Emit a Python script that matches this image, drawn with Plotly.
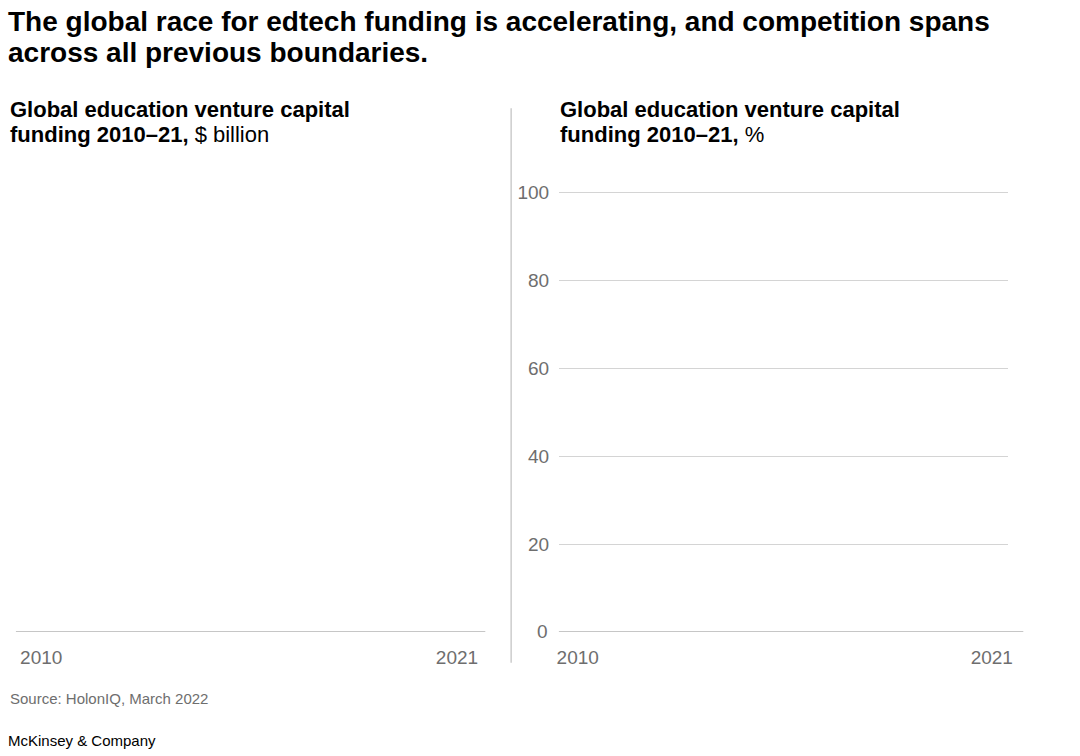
import plotly.graph_objects as go

W, H = 1080, 756

title_lines = ["The global race for edtech funding is accelerating, and competition spans",
               "across all previous boundaries."]
left_sub = ["Global education venture capital", "funding 2010–21,"]
left_unit = "$ billion"
right_sub = ["Global education venture capital", "funding 2010–21,"]
right_unit = "%"
source = "Source: HolonIQ, March 2022"
brand = "McKinsey & Company"

x_tick_years = [2010, 2021]
x_tick_labels = ["2010", "2021"]
y_ticks_pct = [0, 20, 40, 60, 80, 100]
y_tick_labels_pct = ["0", "20", "40", "60", "80", "100"]

# No data marks are visible in the reference chart
funding_years = []
funding_billion = []
share_years = []
share_pct = []

FONT = "Liberation Sans, Arial, sans-serif"
GREY_TXT = "#6e6e6e"

def px_x(p):
    return p / W

def px_y(p):
    return (H - p) / H

fig = go.Figure()
fig.add_trace(go.Bar(x=funding_years, y=funding_billion, xaxis="x", yaxis="y", showlegend=False))
fig.add_trace(go.Bar(x=share_years, y=share_pct, xaxis="x2", yaxis="y2", showlegend=False))

YMAX = 101
y0px, y100px = 631, 188
ytop_px = y0px - (y0px - y100px) * YMAX / 100
ydom = [px_y(y0px), px_y(ytop_px)]

fig.update_layout(
    width=W, height=H,
    margin=dict(l=0, r=0, t=0, b=0),
    paper_bgcolor="white", plot_bgcolor="white",
    font=dict(family=FONT, color="#000000"),
    showlegend=False,
    xaxis=dict(domain=[px_x(14), px_x(486)], range=[2009.33, 2021.75],
               tickvals=x_tick_years, ticktext=x_tick_labels,
               showgrid=False, zeroline=False, showline=False,
               tickfont=dict(size=19, color=GREY_TXT, family=FONT),
               ticks="outside", ticklen=8, tickcolor="rgba(0,0,0,0)"),
    yaxis=dict(domain=ydom, range=[0, YMAX], visible=False),
    xaxis2=dict(domain=[px_x(560), px_x(1012)], range=[2009.5, 2021.44],
                tickvals=x_tick_years, ticktext=x_tick_labels,
                showgrid=False, zeroline=False, showline=False,
                tickfont=dict(size=19, color=GREY_TXT, family=FONT),
                ticks="outside", ticklen=8, tickcolor="rgba(0,0,0,0)", anchor="y2"),
    yaxis2=dict(domain=ydom, range=[0, YMAX], anchor="x2",
                tickvals=y_ticks_pct[1:], ticktext=y_tick_labels_pct[1:],
                showgrid=True, gridcolor="#d4d4d4", gridwidth=1,
                zeroline=False, showline=False,
                tickfont=dict(size=19, color=GREY_TXT, family=FONT),
                ticks="outside", ticklen=5, tickcolor="rgba(0,0,0,0)"),
)

shapes = []
shapes.append(dict(type="line", xref="x domain", yref="y", x0=0, x1=1, y0=0, y1=0,
                   line=dict(color="#b3b3b3", width=1.5)))
shapes.append(dict(type="line", xref="x2 domain", yref="y2", x0=0, x1=(1027 - 560) / (1012 - 560),
                   y0=0, y1=0, line=dict(color="#b3b3b3", width=1.5)))
shapes.append(dict(type="line", xref="paper", yref="paper", x0=px_x(512), x1=px_x(512),
                   y0=px_y(103), y1=px_y(662), line=dict(color="#cccccc", width=1.5)))
fig.update_layout(shapes=shapes)

ann = []
def txt(x, y, text, size, color="#000000", anchor="left"):
    ann.append(dict(xref="paper", yref="paper", x=px_x(x), y=px_y(y), xanchor=anchor,
                    yanchor="middle", text=text, showarrow=False, align="left",
                    font=dict(size=size, color=color, family=FONT)))

txt(4, 16, "<b>" + title_lines[0] + "</b>", 28)
txt(4, 47, "<b>" + title_lines[1] + "</b>", 28)
txt(6, 104, "<b>" + left_sub[0] + "</b>", 22)
txt(6, 130, "<b>" + left_sub[1] + "</b> " + left_unit, 22)
txt(559, 104, "<b>" + right_sub[0] + "</b>", 22)
txt(559, 130, "<b>" + right_sub[1] + "</b> " + right_unit, 22)
txt(6, 698, source, 15, GREY_TXT)
txt(4, 740, brand, 15)
ann.append(dict(xref="paper", yref="y2", x=px_x(551), y=y_ticks_pct[0], xanchor="right",
                yanchor="middle", text=y_tick_labels_pct[0], showarrow=False,
                font=dict(size=19, color=GREY_TXT, family=FONT)))
fig.update_layout(annotations=ann)

fig.write_html("out.html", config={"displayModeBar": False},
               post_script="document.body.style.margin='0';document.body.style.overflow='hidden';")
